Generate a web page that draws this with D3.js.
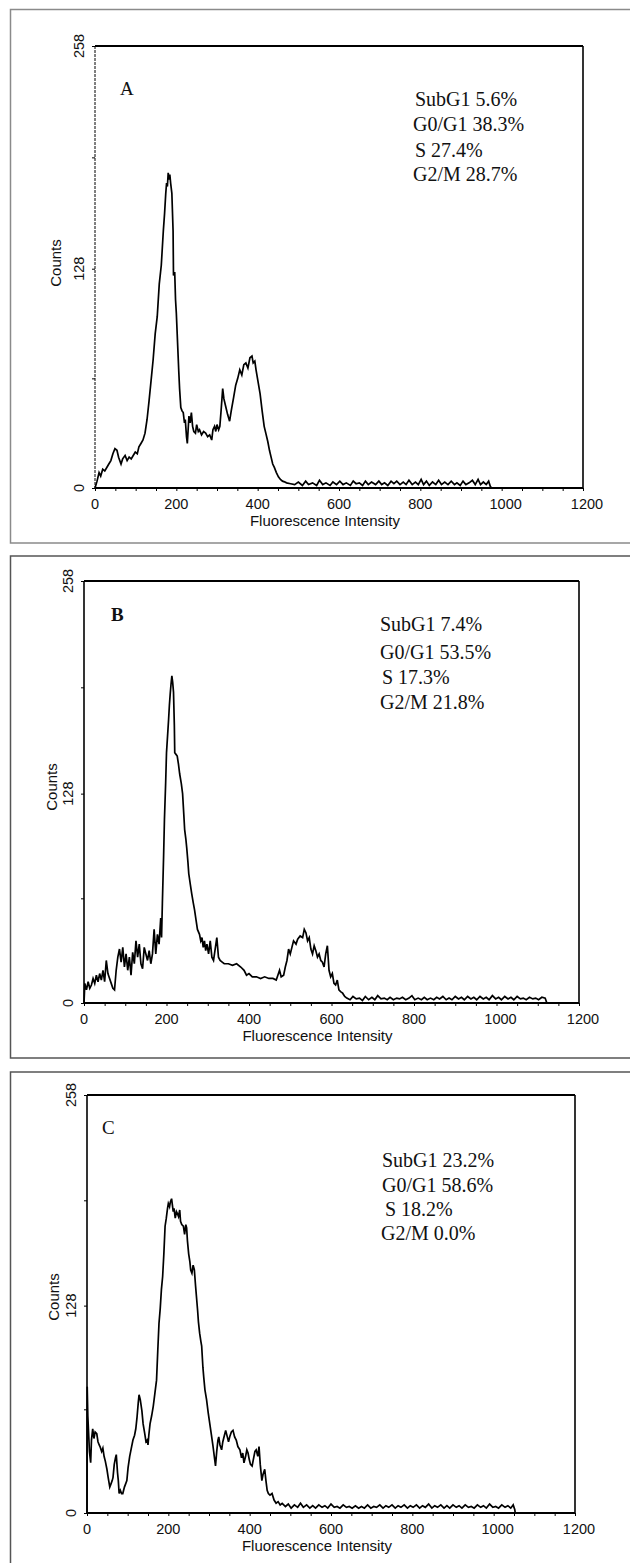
<!DOCTYPE html>
<html><head><meta charset="utf-8">
<script src="https://cdn.jsdelivr.net/npm/d3@7/dist/d3.min.js"></script>
<style>body{margin:0;background:#fff}svg{display:block}</style>
</head><body>
<svg id="chart" width="630" height="1563"></svg>
<script>
// ---------- data ----------
const xTickLabels = [0, 200, 400, 600, 800, 1000, 1200];
const xMinorTicks = [0,50,100,150,200,250,300,350,400,450,500,550,600,650,700,750,800,850,900,950,1000,1050,1100,1150,1200];
const yTickLabels = [0, 128, 258];
const yMinorTicks = [0, 64, 128, 193, 258];
const panelLetters = ["A", "B", "C"];

const statsA = ["SubG1 5.6%", "G0/G1 38.3%", "S 27.4%", "G2/M 28.7%"];
const statsB = ["SubG1 7.4%", "G0/G1 53.5%", "S 17.3%", "G2/M 21.8%"];
const statsC = ["SubG1 23.2%", "G0/G1 58.6%", "S 18.2%", "G2/M 0.0%"];

// histogram A: [fluorescence, counts]
const histA = [[0,0],[5,4],[10,9],[14,7],[19,11],[24,10],[29,12],[34,14],[39,16],[44,20],[49,23],[54,22],[58,18],[64,14],[68,17],[74,19],[79,16],[84,18],[89,17],[94,19],[99,21],[104,20],[108,24],[113,26],[118,28],[123,32],[128,40],[133,51],[138,63],[143,75],[148,90],[153,100],[158,119],[163,130],[168,150],[171,160],[174,172],[176,178],[178,176],[180,184],[182,180],[184,183],[186,178],[189,172],[192,150],[193,124],[196,126],[198,110],[200,102],[203,85],[206,68],[208,58],[211,47],[214,45],[217,44],[220,38],[222,40],[225,30],[227,26],[229,34],[231,42],[234,38],[237,44],[240,36],[243,33],[247,32],[250,37],[254,33],[257,34],[262,31],[267,33],[272,32],[277,30],[282,31],[287,28],[290,34],[294,36],[297,33],[300,37],[304,34],[307,36],[310,45],[314,58],[317,52],[322,47],[326,43],[331,39],[335,45],[341,53],[346,60],[351,64],[356,69],[361,66],[366,72],[371,73],[376,70],[381,76],[386,77],[389,73],[393,74],[396,69],[401,62],[406,55],[411,45],[416,36],[420,32],[425,27],[429,22],[433,18],[437,14],[441,12],[446,9],[451,6.5],[456,5],[461,4],[466,3.6],[471,3],[481,2.5]];
const tailA = [[491,2],[500,3.5],[510,1.5],[518,4],[525,2],[535,3],[545,1.5],[552,4.5],[560,2],[568,3],[578,1.5],[585,3.5],[594,2],[602,4],[610,2],[618,3],[628,1.5],[635,4],[642,2.5],[650,3],[658,1.5],[665,4],[672,2],[680,3.5],[690,2],[698,4],[705,2],[712,3],[720,1.5],[728,4],[735,2.5],[742,4],[750,2],[758,3.5],[765,2],[772,4.5],[780,2],[788,3.5],[795,2],[802,5],[808,2],[815,4],[822,1.5],[830,3.5],[838,2],[845,4.5],[852,2],[860,3.5],[868,2],[876,4],[884,2],[890,3],[898,1.5],[905,4],[912,2],[920,3],[928,4.5],[935,2],[942,5],[948,2],[955,3.5],[962,2],[968,4],[972,1],[975,0]];

const histB = [[0,0],[2,12],[6,8],[10,13],[14,9],[18,11],[22,15],[26,12],[30,17],[34,13],[38,18],[42,14],[46,20],[50,13],[54,26],[58,18],[62,15],[66,12],[70,9],[74,8],[78,20],[82,28],[86,33],[90,25],[94,34],[98,22],[102,30],[106,20],[110,28],[114,17],[118,31],[122,24],[126,38],[130,28],[134,36],[138,24],[142,21],[146,34],[150,30],[154,26],[158,32],[162,24],[166,30],[170,45],[174,30],[178,42],[182,36],[186,52],[188,40],[190,61],[193,90],[195,112],[198,135],[200,153],[203,165],[205,173],[207,182],[209,189],[211,195],[213,200],[215,196],[217,190],[219,170],[220,153],[223,152],[226,151],[229,146],[232,140],[236,134],[239,128],[242,115],[244,106],[247,100],[249,95],[252,86],[254,79],[258,72],[261,67],[265,61],[268,57],[272,50],[275,45],[280,42],[283,38],[286,40],[289,34],[292,38],[295,32],[298,36],[302,30],[306,38],[310,28],[314,26],[318,33],[322,40],[326,28],[330,26],[335,25],[340,24],[350,24],[360,23],[370,24],[380,22],[388,20],[394,17],[400,18],[408,16],[418,16],[428,15],[438,16],[448,15],[458,15],[466,14],[470,17],[474,20],[478,16],[484,17],[488,22],[492,26],[496,33],[500,30],[504,34],[508,38],[514,36],[518,39],[524,41],[530,40],[534,45],[538,43],[542,38],[546,40],[550,33],[554,30],[558,35],[562,32],[566,28],[570,30],[574,26],[578,25],[582,22],[586,30],[590,35],[594,20],[598,16],[602,18],[606,12],[610,11],[614,14],[618,8],[622,7],[627,6],[632,4],[637,3]];
const tailB = [[645,2],[652,4],[660,2.5],[668,3],[675,1.5],[682,4],[690,2],[698,3.5],[705,2],[712,4.5],[720,2.5],[728,3],[735,2],[742,3.5],[750,2],[758,3],[765,2.5],[772,3.5],[780,2],[788,3],[795,4.5],[802,2],[810,3],[818,2],[825,3.5],[832,2],[840,3],[848,2],[855,3.5],[862,2.5],[870,4],[878,2],[885,3],[892,2],[900,4],[908,2.5],[915,3.5],[922,2],[930,4],[938,2.5],[945,3.5],[952,2],[960,4],[968,2.5],[975,3.5],[982,2],[990,4.5],[998,2.5],[1005,3.5],[1012,2],[1020,4],[1028,2.5],[1035,3.5],[1042,2],[1050,4],[1058,2.5],[1065,3],[1072,2],[1080,3.5],[1088,2.5],[1095,3],[1102,2],[1110,3.5],[1118,3],[1122,0]];

const histC = [[0,0],[0.5,78],[2,60],[4,49],[6,38],[9,31],[11,45],[14,52],[17,46],[20,50],[24,49],[27,44],[30,42],[32,41],[36,38],[39,40],[42,35],[45,32],[49,27],[52,22],[56,16],[59,18],[62,20],[64,22],[67,30],[70,34],[72,36],[75,25],[77,20],[79,12],[82,14],[85,12],[88,12],[92,16],[95,18],[98,20],[101,28],[105,35],[109,40],[113,45],[117,48],[120,52],[123,59],[126,68],[128,73],[131,70],[135,63],[138,55],[142,49],[145,44],[148,45],[150,42],[152,48],[155,55],[159,60],[163,66],[167,74],[171,82],[174,100],[177,117],[180,126],[183,138],[186,146],[189,160],[192,177],[195,182],[198,188],[200,191],[203,189],[205,192],[208,194],[210,190],[212,186],[214,188],[217,182],[220,186],[222,185],[225,183],[228,187],[230,180],[233,178],[237,177],[240,172],[243,178],[245,176],[247,168],[250,160],[253,155],[255,150],[258,148],[261,153],[264,150],[267,140],[270,131],[272,125],[274,118],[277,111],[280,106],[282,103],[285,90],[287,84],[290,76],[294,70],[298,62],[302,55],[306,48],[310,41],[313,35],[316,29],[319,38],[322,45],[324,47],[327,42],[331,39],[334,44],[338,48],[341,51],[345,47],[348,44],[351,47],[355,50],[359,51],[363,47],[367,45],[371,41],[376,39],[380,34],[383,37],[386,31],[390,35],[393,39],[396,37],[399,33],[402,30],[406,29],[409,33],[413,38],[416,39],[420,35],[423,41],[426,30],[430,20],[433,24],[437,27],[440,20],[443,14],[446,12],[450,11],[455,12],[460,8],[465,6],[470,7],[475,5],[480,6]];
const tailC = [[488,4],[495,5.5],[502,3],[510,5],[518,3.5],[525,6],[532,3.5],[540,5],[548,3],[555,4.5],[562,3],[570,5],[578,3.5],[585,4.5],[592,3],[600,5.5],[608,3.5],[615,4],[622,3],[630,5],[638,3.5],[645,4],[652,3],[660,4.5],[668,3],[675,4],[682,3],[690,5],[698,3],[705,4],[712,3.5],[720,5],[728,3],[735,4.5],[742,3.5],[750,5],[758,3],[765,4.5],[772,3.5],[780,5],[788,3],[795,4.5],[802,3.5],[810,5],[818,3],[825,4.5],[832,3.5],[840,5.5],[848,3],[855,4.5],[862,3.5],[870,5],[878,3],[885,4.5],[892,3],[900,5],[908,3.5],[915,4.5],[922,3],[930,5],[938,3.5],[945,4],[952,3],[960,5],[968,3.5],[975,4.5],[982,3],[990,5.5],[998,3.5],[1005,4],[1012,3],[1020,5],[1028,3.5],[1035,4.5],[1042,3],[1048,5],[1052,2],[1053,0]];

// ---------- layout ----------
const panels = [
  {letter: panelLetters[0], bold:false, hist: histA, tail: tailA, stats: statsA, frameColor:"#8a8a8a",
   frame:{y:9.5, bottom:543}, plot:{x0:95, x1:583, y0:46, y1:488}, dashedLeft:true,
   letterPos:[120,95], statsX:[415,413,415,413], statsY:[106,131,157,181], countsX:61, countsY:263},
  {letter: panelLetters[1], bold:true, hist: histB, tail: tailB, stats: statsB, frameColor:"#555",
   frame:{y:556, bottom:1058}, plot:{x0:84, x1:579, y0:581, y1:1003}, dashedLeft:false,
   letterPos:[111,621], statsX:[380,380,382,380], statsY:[631,659,684,709], countsX:57, countsY:787},
  {letter: panelLetters[2], bold:false, hist: histC, tail: tailC, stats: statsC, frameColor:"#555",
   frame:{y:1072, bottom:1620}, plot:{x0:87, x1:575, y0:1095, y1:1513}, dashedLeft:false,
   letterPos:[102,1134], statsX:[382,382,385,381], statsY:[1167,1192,1216,1240], countsX:59, countsY:1297}
];

const svg = d3.select("#chart");
const sans = "'Liberation Sans', Arial, Helvetica, sans-serif";
const serif = "'Liberation Serif', 'Times New Roman', Times, serif";

panels.forEach(p => {
  const g = svg.append("g");
  // outer frame
  g.append("rect").attr("x", 10.5).attr("y", p.frame.y)
    .attr("width", 700).attr("height", p.frame.bottom - p.frame.y)
    .attr("fill", "none").attr("stroke", p.frameColor).attr("stroke-width", 1.5);

  const x = d3.scaleLinear().domain([0, 1200]).range([p.plot.x0, p.plot.x1]);
  const y = d3.scaleLinear().domain([0, 258]).range([p.plot.y1, p.plot.y0]);

  // histogram trace
  const line = d3.line().x(d => x(d[0])).y(d => y(d[1])).curve(d3.curveLinear);
  g.append("path").datum(p.hist.concat(p.tail)).attr("d", line)
    .attr("fill", "none").attr("stroke", "#000").attr("stroke-width", 1.7)
    .attr("stroke-linejoin", "miter");

  // plot box
  g.append("line").attr("x1", x(0)).attr("x2", x(1200)).attr("y1", y(258)).attr("y2", y(258))
    .attr("stroke", "#000").attr("stroke-width", 2);
  g.append("line").attr("x1", x(1200)).attr("x2", x(1200)).attr("y1", y(258)).attr("y2", y(0))
    .attr("stroke", "#000").attr("stroke-width", 1.6);
  g.append("line").attr("x1", x(0)).attr("x2", x(0)).attr("y1", y(258)).attr("y2", y(0))
    .attr("stroke", "#000").attr("stroke-width", p.dashedLeft ? 1 : 1.6)
    .attr("stroke-dasharray", p.dashedLeft ? "3,1" : null);

  // x axis
  const xAxis = d3.axisBottom(x).tickValues(xMinorTicks).tickSize(3).tickFormat("");
  const xa = g.append("g").attr("transform", `translate(0,${y(0)})`).call(xAxis);
  xa.select(".domain").attr("stroke-width", 2.2).attr("d", `M${x(0)},0H${x(1200)}`);
  xa.selectAll(".tick line").attr("stroke-width", 1);
  g.selectAll(null).data(xTickLabels).enter().append("text")
    .attr("x", d => x(d) + (d >= 1000 ? 4 : 0)).attr("y", y(0) + 21)
    .attr("text-anchor", "middle").attr("font-family", sans).attr("font-size", 14.5)
    .attr("fill", "#111").text(d => d);

  // y axis ticks
  const yAxis = d3.axisLeft(y).tickValues(yMinorTicks).tickSize(3).tickFormat("");
  const ya = g.append("g").attr("transform", `translate(${x(0)},0)`).call(yAxis);
  ya.select(".domain").remove();
  ya.selectAll(".tick line").attr("stroke-width", 1);
  g.selectAll(null).data(yTickLabels).enter().append("text")
    .attr("transform", d => `translate(${x(0) - 11},${y(d)}) rotate(-90)`)
    .attr("text-anchor", "middle").attr("font-family", sans).attr("font-size", 14.5)
    .attr("fill", "#111").text(d => d);

  // axis titles
  g.append("text").attr("x", (p.plot.x0 + p.plot.x1) / 2 - 14).attr("y", y(0) + 38)
    .attr("text-anchor", "middle").attr("font-family", sans).attr("font-size", 15)
    .attr("fill", "#111").text("Fluorescence Intensity");
  g.append("text").attr("transform", `translate(${p.countsX},${p.countsY}) rotate(-90)`)
    .attr("text-anchor", "middle").attr("font-family", sans).attr("font-size", 15)
    .attr("fill", "#111").text("Counts");

  // panel letter
  g.append("text").attr("x", p.letterPos[0]).attr("y", p.letterPos[1])
    .attr("font-family", serif).attr("font-size", 19)
    .attr("font-weight", p.bold ? "bold" : "normal").attr("fill", "#111").text(p.letter);

  // stats
  g.selectAll(null).data(p.stats).enter().append("text")
    .attr("x", (d, i) => p.statsX[i]).attr("y", (d, i) => p.statsY[i])
    .attr("font-family", serif).attr("font-size", 20).attr("fill", "#111").text(d => d);
});
</script>
</body></html>
